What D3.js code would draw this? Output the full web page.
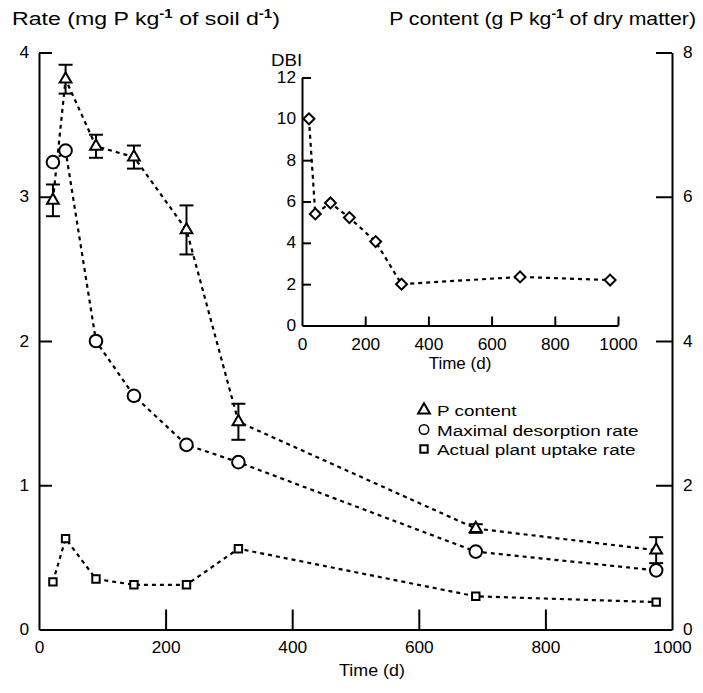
<!DOCTYPE html>
<html>
<head>
<meta charset="utf-8">
<script src="https://cdn.jsdelivr.net/npm/d3@7"></script>
<style>
  body { margin: 0; background: #fff; }
  svg { display: block; }
  text { font-family: "Liberation Sans", Arial, sans-serif; fill: #000; }
</style>
</head>
<body>
<div id="chart"></div>
<script>
// sampling days (same for all series)
const days = [22, 42, 90, 150, 233, 315, 690, 975];
// P content (g P kg-1 dry matter), right axis, with error bars
const pContent = [5.95, 7.63, 6.70, 6.55, 5.54, 2.88, 1.40, 1.10];
const pContentErr = [0.22, 0.20, 0.16, 0.16, 0.34, 0.25, 0.06, 0.18];
// rates (mg P kg-1 soil d-1), left axis
const desorption = [3.24, 3.32, 2.00, 1.62, 1.28, 1.16, 0.54, 0.41];
const uptake = [0.33, 0.63, 0.35, 0.31, 0.31, 0.56, 0.23, 0.19];
// inset: DBI
const dbi = [10.0, 5.4, 5.93, 5.22, 4.06, 2.0, 2.35, 2.2];

const xTicks = [0, 200, 400, 600, 800, 1000];
const leftTicks = [0, 1, 2, 3, 4];
const rightTicks = [0, 2, 4, 6, 8];
const dbiTicks = [0, 2, 4, 6, 8, 10, 12];
const legendItems = ["P content", "Maximal desorption rate", "Actual plant uptake rate"];

const W = 703, H = 693;
const svg = d3.select("#chart").append("svg").attr("width", W).attr("height", H);

// main scales
const x = d3.scaleLinear().domain([0, 1000]).range([39, 672]);
const yL = d3.scaleLinear().domain([0, 4]).range([629.5, 52.5]);
const yR = d3.scaleLinear().domain([0, 8]).range([629.5, 52.5]);

// inset scales
const xi = d3.scaleLinear().domain([0, 1000]).range([302, 618]);
const yi = d3.scaleLinear().domain([0, 12]).range([325.5, 77.5]);

// the scanned figure is a bit wider than tall, so text is stretched sideways
function hstretch(sel, f) {
    sel.each(function () {
        const t = d3.select(this);
        const ax = +t.attr("x") || 0;
        t.attr("transform", `translate(${ax},0) scale(${f},1) translate(${-ax},0)`);
    });
}

const fmt = d3.format("d");
const axisStyle = g => {
    g.select(".domain").attr("stroke", "#000").attr("stroke-width", 2);
    g.selectAll(".tick line").attr("stroke", "#000").attr("stroke-width", 2);
    g.selectAll(".tick text").attr("font-size", 16).attr("fill", "#000")
        .attr("font-family", "Liberation Sans, Arial, sans-serif")
        .call(hstretch, 1.08);
};

// main axes
svg.append("g")
    .attr("transform", `translate(0,${yL(0)})`)
    .call(d3.axisBottom(x).tickValues(xTicks).tickFormat(fmt).tickSize(-20).tickSizeOuter(0).tickPadding(12))
    .call(axisStyle)
    .call(g => g.selectAll(".tick").filter(d => d === 0 || d === 1000).select("line").remove());

svg.append("g")
    .attr("transform", `translate(${x(0)},0)`)
    .call(d3.axisLeft(yL).tickValues(leftTicks).tickFormat(fmt).tickSize(-13).tickSizeOuter(0).tickPadding(10))
    .call(axisStyle)
    .call(g => g.selectAll(".tick").filter(d => d === 0).select("line").remove());

svg.append("g")
    .attr("transform", `translate(${x(1000)},0)`)
    .call(d3.axisRight(yR).tickValues(rightTicks).tickFormat(fmt).tickSize(-16).tickSizeOuter(0).tickPadding(11))
    .call(axisStyle)
    .call(g => g.selectAll(".tick").filter(d => d === 0).select("line").remove());

// inset axes
svg.append("g")
    .attr("transform", `translate(0,${yi(0)})`)
    .call(d3.axisBottom(xi).tickValues(xTicks).tickFormat(fmt).tickSize(-9).tickSizeOuter(0).tickPadding(13))
    .call(axisStyle)
    .call(g => g.selectAll(".tick").filter(d => d === 0).select("line").remove());

svg.append("g")
    .attr("transform", `translate(${xi(0)},0)`)
    .call(d3.axisLeft(yi).tickValues(dbiTicks).tickFormat(fmt).tickSize(-9).tickSizeOuter(0).tickPadding(6))
    .call(axisStyle)
    .call(g => g.selectAll(".tick").filter(d => d === 0).select("line").remove());

// titles with superscripts, stretched to the width seen in the figure
function titleWithSup(xPos, yPos, parts, anchor, width) {
    const t = svg.append("text").attr("x", xPos).attr("y", yPos)
        .attr("font-size", 18.5).attr("text-anchor", anchor);
    parts.forEach(p => {
        const ts = t.append("tspan").text(p.text);
        if (p.sup) ts.attr("font-size", 12).attr("dy", -7).attr("font-weight", "bold");
        else if (p.after) ts.attr("dy", 7);
    });
    const f = width / t.node().getBBox().width;
    t.call(hstretch, f);
}
titleWithSup(12, 25, [
    { text: "Rate (mg P kg" }, { text: "-1", sup: true }, { text: " of soil d", after: true },
    { text: "-1", sup: true }, { text: ")", after: true }
], "start", 268);
titleWithSup(696, 25, [
    { text: "P content (g P kg" }, { text: "-1", sup: true }, { text: " of dry matter)", after: true }
], "end", 307);

svg.append("text").attr("x", 372).attr("y", 676).attr("text-anchor", "middle")
    .attr("font-size", 17).text("Time (d)").call(hstretch, 1.05);
svg.append("text").attr("x", 460).attr("y", 369).attr("text-anchor", "middle")
    .attr("font-size", 17).text("Time (d)").call(hstretch, 1.0);
svg.append("text").attr("x", 271).attr("y", 66).attr("font-size", 17).text("DBI").call(hstretch, 1.1);

// series lines
const dash = "4,4";
function dashed(xs, ys, xScale, yScale) {
    const line = d3.line().x(d => xScale(d[0])).y(d => yScale(d[1]));
    svg.append("path")
        .datum(d3.zip(xs, ys))
        .attr("fill", "none")
        .attr("stroke", "#000")
        .attr("stroke-width", 2.2)
        .attr("stroke-dasharray", dash)
        .attr("d", line);
}
dashed(days, pContent, x, yR);
dashed(days, desorption, x, yL);
dashed(days, uptake, x, yL);
dashed(days, dbi, xi, yi);

// error bars for P content
const errG = svg.append("g").attr("stroke", "#000").attr("stroke-width", 2);
days.forEach((d, i) => {
    const cx = x(d);
    const top = yR(pContent[i] + pContentErr[i]);
    const bot = yR(pContent[i] - pContentErr[i]);
    errG.append("line").attr("x1", cx).attr("x2", cx).attr("y1", top).attr("y2", bot);
    errG.append("line").attr("x1", cx - 7).attr("x2", cx + 7).attr("y1", top).attr("y2", top);
    errG.append("line").attr("x1", cx - 7).attr("x2", cx + 7).attr("y1", bot).attr("y2", bot);
});

// markers
const sym = {
    triangle: d3.symbol().type(d3.symbolTriangle).size(60),
    circle: d3.symbol().type(d3.symbolCircle).size(125),
    square: d3.symbol().type(d3.symbolSquare).size(55),
    diamond: d3.symbol().type(d3.symbolSquare).size(60)
};
function markers(xs, ys, xScale, yScale, shape, rot) {
    svg.append("g").selectAll("path")
        .data(d3.zip(xs, ys))
        .join("path")
        .attr("transform", d => `translate(${xScale(d[0])},${yScale(d[1])}) rotate(${rot || 0})`)
        .attr("d", sym[shape])
        .attr("fill", "#fff")
        .attr("stroke", "#000")
        .attr("stroke-width", 2);
}
markers(days, pContent, x, yR, "triangle");
markers(days, desorption, x, yL, "circle");
markers(days, uptake, x, yL, "square");
markers(days, dbi, xi, yi, "diamond", 45);

// legend
const leg = svg.append("g").attr("transform", "translate(424,410)");
const legShapes = ["triangle", "circle", "square"];
legendItems.forEach((name, i) => {
    const row = leg.append("g").attr("transform", `translate(0,${i * 19.5})`);
    row.append("path").attr("d", sym[legShapes[i]])
        .attr("fill", "#fff").attr("stroke", "#000").attr("stroke-width", 2)
        .attr("transform", legShapes[i] === "circle" ? "scale(0.75)" : null);
    row.append("text").attr("x", 13).attr("y", 6).attr("font-size", 15.5).text(name)
        .call(hstretch, 1.22);
});
</script>
</body>
</html>
